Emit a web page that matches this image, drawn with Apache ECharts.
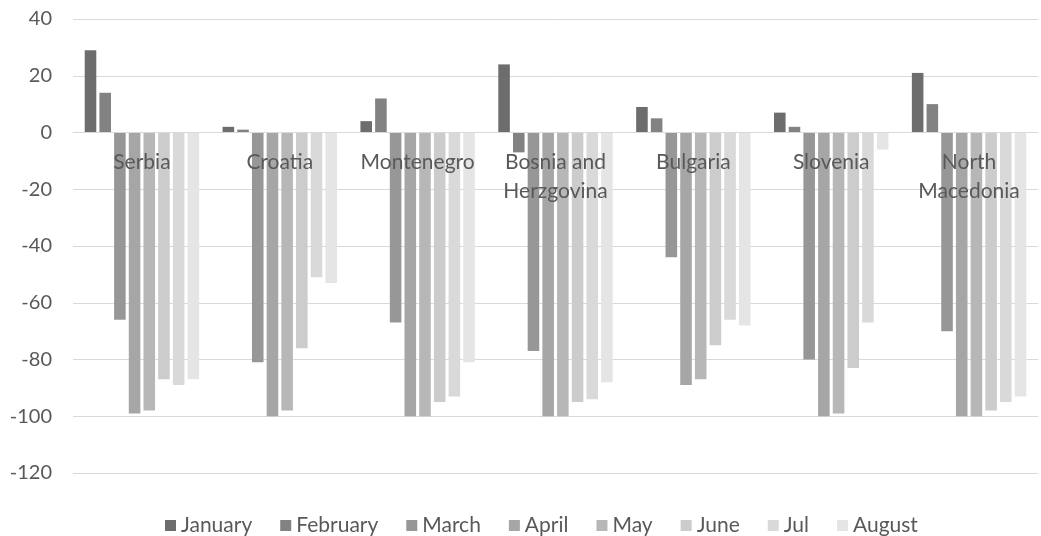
<!DOCTYPE html>
<html>
<head>
<meta charset="utf-8">
<script src="https://cdn.jsdelivr.net/npm/echarts@6/dist/echarts.min.js"></script>
<style>
  html, body { margin: 0; padding: 0; background: #ffffff; }
  #chart { width: 1041px; height: 536px; }
</style>
</head>
<body>
<div id="chart"></div>
<script>
// Countries on the category axis
const countries = ['Serbia', 'Croatia', 'Montenegro', 'Bosnia and\nHerzgovina', 'Bulgaria', 'Slovenia', 'North\nMacedonia'];

// Monthly change per country (%)
const months = ['January', 'February', 'March', 'April', 'May', 'June', 'Jul', 'August'];
const january  = [29, 2, 4, 24, 9, 7, 21];
const february = [14, 1, 12, -7, 5, 2, 10];
const march    = [-66, -81, -67, -77, -44, -80, -70];
const april    = [-99, -100, -100, -100, -89, -100, -100];
const may      = [-98, -98, -100, -100, -87, -99, -100];
const june     = [-87, -76, -95, -95, -75, -83, -98];
const jul      = [-89, -51, -93, -94, -66, -67, -95];
const august   = [-87, -53, -81, -88, -68, -6, -93];

const monthValues = [january, february, march, april, may, june, jul, august];
const monthColors = ['#6d6d6d', '#828282', '#979797', '#a6a6a6', '#b7b7b7', '#cccccc', '#d9d9d9', '#e5e5e5'];

// Value axis ticks
const yMin = -120, yMax = 40, yStep = 20;

const fontFamily = 'Lato, "Open Sans", sans-serif';
const gridTop = 19, gridBottom = 63, chartHeight = 536;

const series = months.map((name, i) => ({
  name: name,
  type: 'bar',
  z: 2,
  data: monthValues[i],
  barGap: '27%',
  barCategoryGap: '17%',
  itemStyle: { color: monthColors[i] },
  emphasis: { disabled: true }
}));

const chart = echarts.init(document.getElementById('chart'), null, { renderer: 'canvas' });
chart.setOption({
  backgroundColor: '#ffffff',
  animation: false,
  grid: { left: 73, right: 3, top: gridTop, bottom: gridBottom, containLabel: false },
  legend: {
    data: months,
    top: 510,
    left: 160,
    icon: 'rect',
    itemWidth: 11,
    itemHeight: 11,
    itemGap: 28,
    textStyle: { fontFamily: fontFamily, fontSize: 21, color: '#595959' }
  },
  xAxis: {
    type: 'category',
    z: 5,
    data: countries,
    axisLine: { onZero: true, lineStyle: { color: '#d9d9d9', width: 1 } },
    axisTick: { show: false },
    axisLabel: {
      interval: 0,
      margin: 16,
      fontFamily: fontFamily,
      fontSize: 21,
      lineHeight: 29,
      color: '#595959'
    }
  },
  yAxis: {
    type: 'value',
    min: yMin,
    max: yMax,
    interval: yStep,
    axisLine: { show: false },
    axisTick: { show: false },
    splitLine: { lineStyle: { color: '#d9d9d9', width: 1 } },
    axisLabel: {
      margin: 21,
      fontFamily: fontFamily,
      fontSize: 20,
      color: '#595959'
    }
  },
  series: series
});

// Country names sit just under the zero line: lift the labels from the
// bottom of the grid up to where the value axis puts 0.
const zeroY = chart.convertToPixel({ yAxisIndex: 0 }, 0);
const gridBottomY = chartHeight - gridBottom;
chart.setOption({
  xAxis: { axisLabel: { margin: 18 - (gridBottomY - zeroY) } }
});
</script>
</body>
</html>
